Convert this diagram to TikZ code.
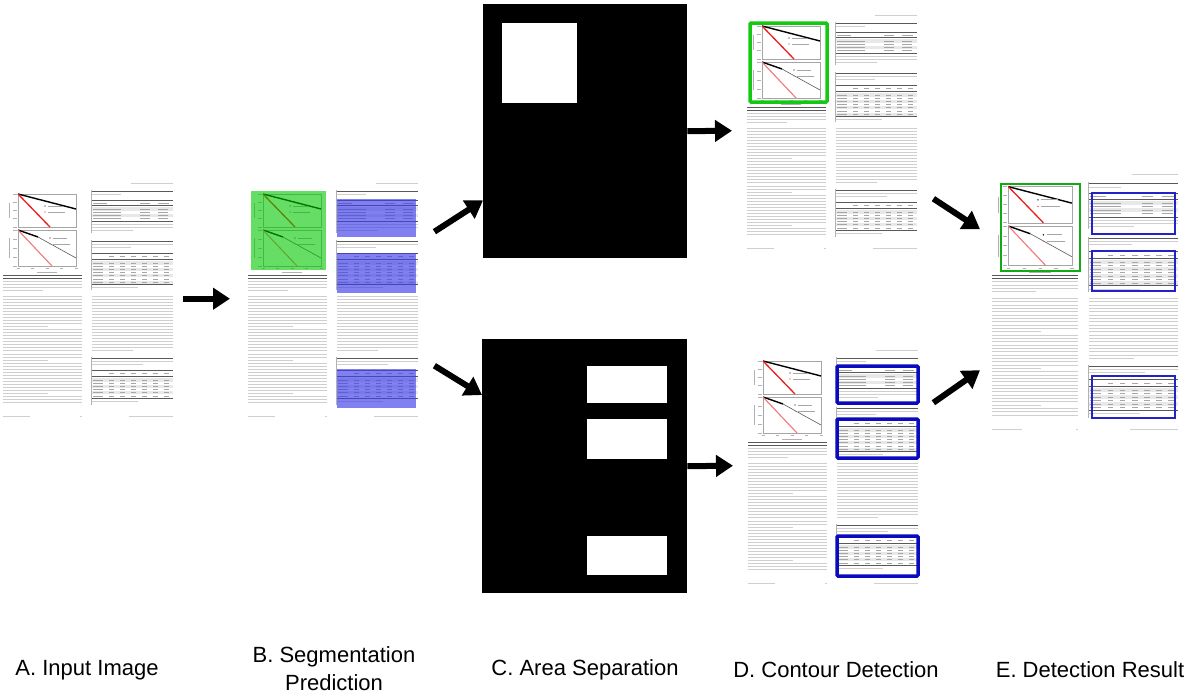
\documentclass[tikz,border=0pt]{standalone}
\usepackage{fontspec}
\newfontfamily\labelfont{Liberation Sans}
\usetikzlibrary{arrows.meta}
\usetikzlibrary{calc}

\definecolor{segGreen}{RGB}{0,200,0}
\definecolor{segBlue}{RGB}{60,60,235}
\definecolor{boxGreen}{RGB}{20,200,20}
\definecolor{boxBlue}{RGB}{10,10,190}
\definecolor{plotRed}{RGB}{235,30,30}

\newcommand{\tabrows}[3]{%
  \foreach \r in {1,...,#2} {
    \pgfmathsetmacro\ry{#1+3.2*(\r-1)}
    \ifodd\r \fill[rowshade] (89,\ry-1.6) rectangle (170,\ry+1.6); \fi
    \foreach \cx/\cw in {#3} \draw[entry] (\cx,\ry) -- (\cx+\cw,\ry);
  }
}

\tikzset{
  txt/.style={gray!38, line width=0.9pt},
  boldtxt/.style={black!65, line width=1pt},
  entry/.style={gray!70, line width=0.8pt},
  tabrule/.style={black!65, line width=0.5pt},
  rowshade/.style={fill=gray!18},
  panel/.style={draw=gray!70, line width=0.4pt},
  ticklab/.style={gray!60, line width=0.7pt},
  decay/.style={black, line width=1.4pt},
  slow/.style={gray!70!black, line width=0.6pt},
  fast/.style={plotRed, line width=1.3pt},
  fastlight/.style={plotRed!60, line width=1.1pt},
  flow/.style={line width=6pt, -{Triangle[length=17pt,width=21pt]}},
  pageframe/.style={inner sep=0pt, minimum width=170pt, minimum height=245pt, anchor=north west},
  binmask/.style={fill=black, inner sep=0pt, anchor=north west},
  segfill/.style={fill=segGreen, fill opacity=0.6},
  tabfill/.style={fill=segBlue, fill opacity=0.65},
  figline/.style={draw=boxGreen, line width=3.5pt, rounded corners=1pt},
  tabline/.style={draw=boxBlue, line width=3.5pt, rounded corners=1pt},
  figthin/.style={draw=boxGreen!85!black, line width=2pt},
  tabthin/.style={draw=boxBlue!90!white, line width=2pt},
  steplabel/.style={font=\labelfont\fontsize{22}{28}\selectfont, align=center},
  docpage/.pic={
    \draw[txt] (128,7) -- (170,7);
    % figure with two panels
    \draw[panel] (15,18) rectangle (73,51);
    \draw[panel] (15,54) rectangle (73,90);
    \foreach \t in {18,26.25,...,51} \draw[ticklab] (10,\t) -- (13.5,\t);
    \foreach \t in {54,63,...,90} \draw[ticklab] (10,\t) -- (13.5,\t);
    \foreach \t in {15,29.5,...,73} \draw[ticklab] (\t-1.5,92.5) -- (\t+1.5,92.5);
    \draw[ticklab] (34,96) -- (54,96);
    \draw[ticklab] (6,27) -- (6,42);
    \draw[ticklab] (6,62) -- (6,82);
    \draw[decay] (15,18) -- (73,33);
    \draw[fast] (15,18) -- (47,51);
    \draw[decay] (15,54) -- (35,61);
    \draw[slow] (35,61) -- (73,82);
    \draw[fastlight] (15,54) -- (49,90);
    \fill (42,30) circle[radius=0.7pt];
    \fill[plotRed] (42,36) circle[radius=0.7pt];
    \draw[entry] (45,30) -- (60,30);
    \draw[entry] (45,36) -- (62,36);
    \fill (47,62) circle[radius=0.7pt];
    \fill[plotRed!60] (47,68) circle[radius=0.7pt];
    \draw[entry] (50,62) -- (64,62);
    \draw[entry] (50,68) -- (67,68);
    \foreach \y in {99,102} \draw[boldtxt] (0,\y) -- (79,\y);
    \foreach \y in {105,108,111} \draw[txt] (0,\y) -- (79,\y);
    \draw[txt] (0,114) -- (40,114);
    \foreach \i in {0,...,35} {
      \pgfmathsetmacro\ty{120+3.05*\i}
      \pgfmathsetmacro\te{mod(\i,11)==10 ? 45 : 79}
      \draw[txt] (0,\ty) -- (\te,\ty);
    }
    % table 1
    \draw[boldtxt] (89,15.5) -- (170,15.5);
    \draw[txt] (89,18.5) -- (118,18.5);
    \draw[ticklab] (88.5,14) -- (88.5,57);
    \draw[tabrule] (89,24) -- (170,24);
    \foreach \cx/\cw in {90/14,137/10,155/11} \draw[entry] (\cx,27) -- (\cx+\cw,27);
    \draw[tabrule] (89,29.5) -- (170,29.5);
    \tabrows{33}{4}{90/28,137/10,155/10}
    \draw[tabrule] (89,45.5) -- (170,45.5);
    \draw[txt] (89,48.5) -- (170,48.5);
    \draw[txt] (89,51.5) -- (170,51.5);
    \draw[txt] (89,54.5) -- (130,54.5);
    % table 2
    \draw[boldtxt] (89,65) -- (170,65);
    \draw[txt] (89,68) -- (170,68);
    \draw[txt] (89,71) -- (128,71);
    \draw[ticklab] (88.5,64) -- (88.5,114);
    \draw[tabrule] (89,77) -- (170,77);
    \foreach \cx in {106,117,128,139,150,161} \draw[entry] (\cx,80.5) -- (\cx+5,80.5);
    \draw[tabrule] (89,83.5) -- (170,83.5);
    \tabrows{87}{7}{90/10,106/5,117/5,128/5,139/5,150/5,161/5}
    \draw[tabrule] (89,108.5) -- (170,108.5);
    \draw[txt] (89,111.5) -- (135,111.5);
    % right column text
    \foreach \i in {0,...,18} {
      \pgfmathsetmacro\ty{120+3.05*\i}
      \pgfmathsetmacro\te{\i==18 ? 130 : 170}
      \draw[txt] (89,\ty) -- (\te,\ty);
    }
    % table 3
    \draw[boldtxt] (89,182) -- (170,182);
    \draw[txt] (89,185) -- (170,185);
    \draw[txt] (89,188) -- (140,188);
    \draw[ticklab] (88.5,181) -- (88.5,229);
    \draw[tabrule] (89,194) -- (170,194);
    \foreach \cx in {106,117,128,139,150,161} \draw[entry] (\cx,197.5) -- (\cx+5,197.5);
    \draw[tabrule] (89,200.5) -- (170,200.5);
    \tabrows{204}{6}{90/10,106/5,117/5,128/5,139/5,150/5,161/5}
    \draw[tabrule] (89,222.5) -- (170,222.5);
    \draw[txt] (89,225.5) -- (135,225.5);
    % footer
    \draw[txt] (0,240) -- (27,240);
    \draw[txt] (77,240) -- (79,240);
    \draw[txt] (126,240) -- (170,240);
  }
}

\begin{document}
\begin{tikzpicture}[x=1pt, y=-1pt]
\useasboundingbox[fill=white] (0,0) rectangle (1204,696);

\node[pageframe] (inA) at (3,176) {};
\pic at (3,176) {docpage};

\node[pageframe] (segB) at (248,176) {};
\pic at (248,176) {docpage};
\fill[segfill] (251,191) rectangle (326,270);
\fill[tabfill] (337,199) rectangle (416,237);
\fill[tabfill] (337,253) rectangle (416,293);
\fill[tabfill] (337,369) rectangle (416,408);

\node[binmask, minimum width=204pt, minimum height=254pt] (areaTop) at (483,4) {};
\fill[white] (502,23) rectangle (577,103);
\node[binmask, minimum width=205pt, minimum height=254pt] (areaBot) at (482,339) {};
\fill[white] (587,366) rectangle (667,403);
\fill[white] (587,419) rectangle (667,459);
\fill[white] (587,536) rectangle (667,575);

\node[pageframe] (contTop) at (747,8) {};
\pic at (747,8) {docpage};
\draw[figline] (750,23) rectangle (827,102);

\node[pageframe] (contBot) at (748,343) {};
\pic at (748,343) {docpage};
\draw[tabline] (837,366) rectangle (918,403);
\draw[tabline] (837,419) rectangle (918,458);
\draw[tabline] (837,536) rectangle (918,576);

\node[pageframe, minimum width=186pt, minimum height=268pt] (result) at (992,167) {};
\pic[scale=1.094] at (992,167) {docpage};
\draw[figthin] (1001,184) rectangle (1080,271);
\draw[tabthin] (1092,193) rectangle (1175,234);
\draw[tabthin] (1092,251) rectangle (1175,291);
\draw[tabthin] (1092,376) rectangle (1175,418);

\draw[flow] ([xshift=10pt]inA.east) -- ([xshift=-18pt]segB.west);
\draw[flow] ([shift={(16,-67)}]segB.east) -- ([shift={(0,-58)}]areaTop.south west);
\draw[flow] ([shift={(16,67)}]segB.east) -- ([shift={(0,56)}]areaBot.north west);
\draw[flow] (areaTop.east) -- ([xshift=-15pt]contTop.west);
\draw[flow] (areaBot.east) -- ([xshift=-15pt]contBot.west);
\draw[flow] ([shift={(16,68)}]contTop.east) -- ([shift={(-12,-72)}]result.west);
\draw[flow] ([shift={(15,-63)}]contBot.east) -- ([shift={(-12,69)}]result.west);

\node[steplabel] (labA) at (87,670) {A. Input Image};
\node[steplabel] (labB) at (334,669) {B. Segmentation\\Prediction};
\node[steplabel] (labC) at (585,670) {C. Area Separation};
\node[steplabel] (labD) at (836,670) {D. Contour Detection};
\node[steplabel] (labE) at (1090,670) {E. Detection Result};
\end{tikzpicture}
\end{document}
